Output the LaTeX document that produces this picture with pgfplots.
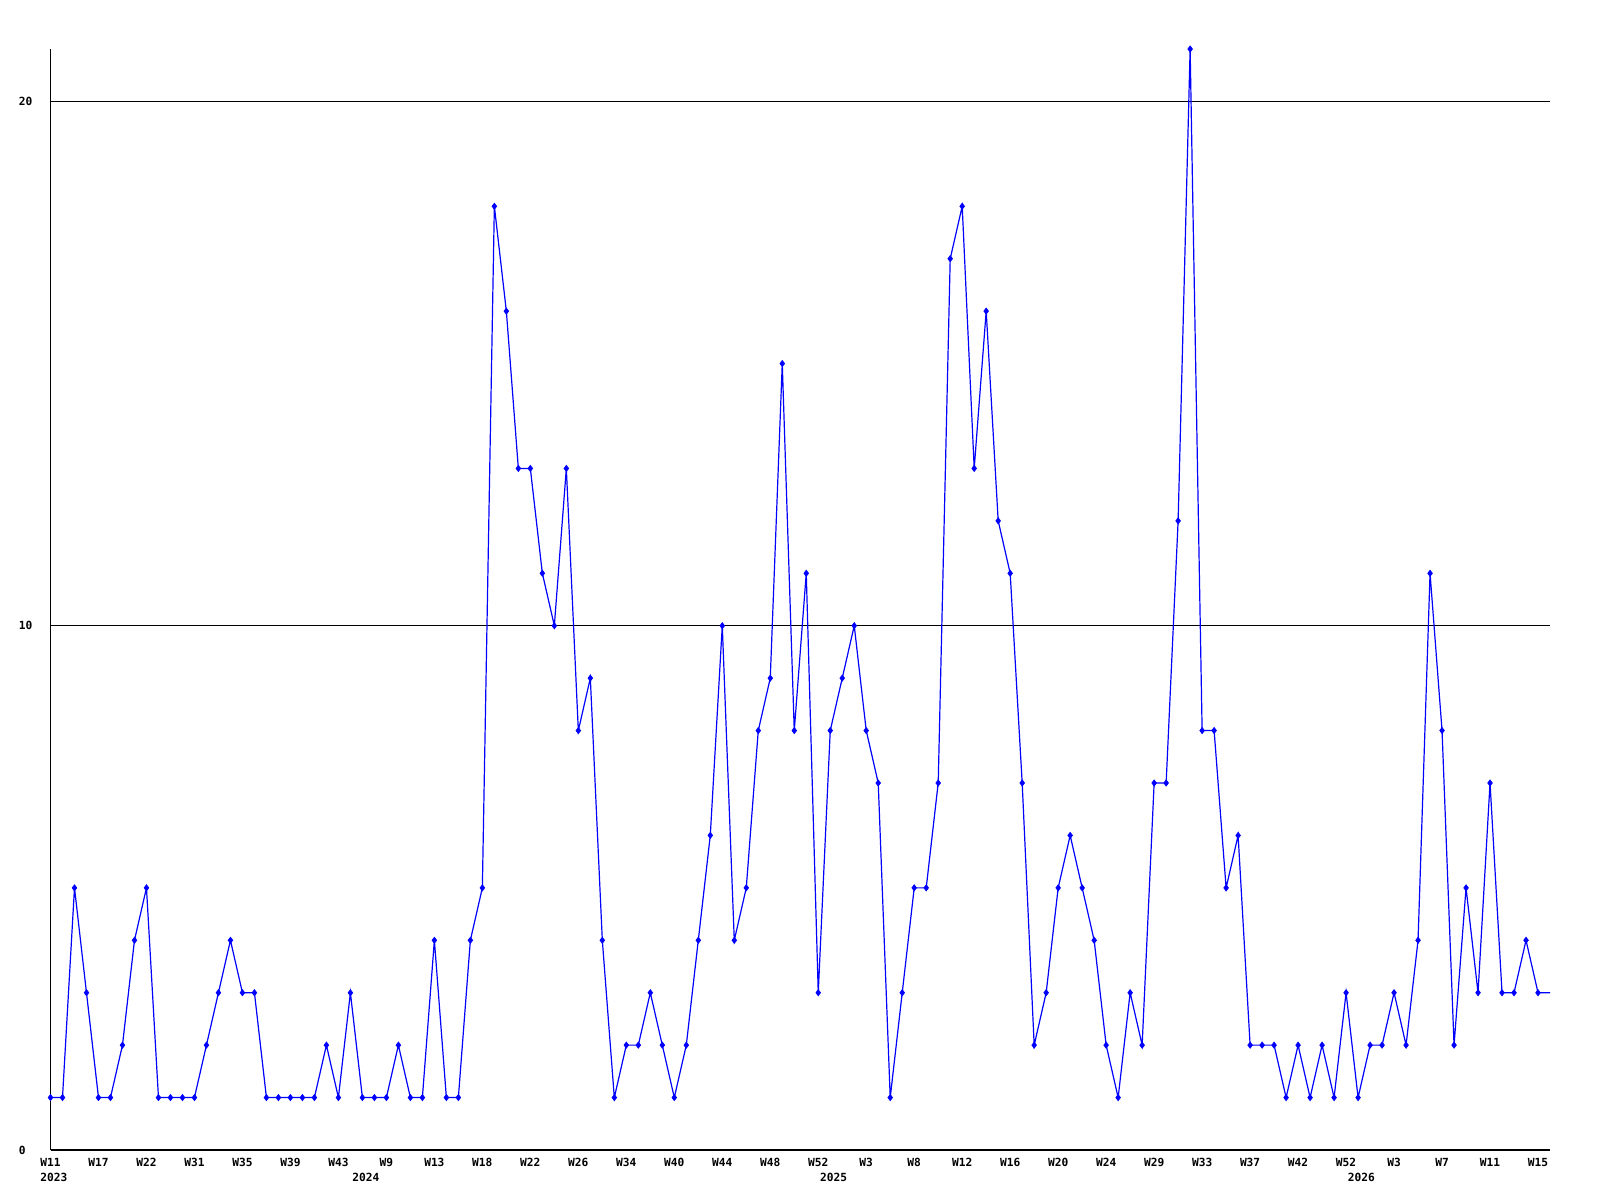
\documentclass[border=0pt]{standalone}
\usepackage{fontspec}
\newfontfamily\labfont{DejaVu Sans Mono}
\usepackage{pgfplots}
\pgfplotsset{compat=1.18}
\usepackage{pgfplotstable}
\definecolor{lineblue}{RGB}{0,0,255}
\pgfplotstableread{
i v
0 1
1 1
2 5
3 3
4 1
5 1
6 2
7 4
8 5
9 1
10 1
11 1
12 1
13 2
14 3
15 4
16 3
17 3
18 1
19 1
20 1
21 1
22 1
23 2
24 1
25 3
26 1
27 1
28 1
29 2
30 1
31 1
32 4
33 1
34 1
35 4
36 5
37 18
38 16
39 13
40 13
41 11
42 10
43 13
44 8
45 9
46 4
47 1
48 2
49 2
50 3
51 2
52 1
53 2
54 4
55 6
56 10
57 4
58 5
59 8
60 9
61 15
62 8
63 11
64 3
65 8
66 9
67 10
68 8
69 7
70 1
71 3
72 5
73 5
74 7
75 17
76 18
77 13
78 16
79 12
80 11
81 7
82 2
83 3
84 5
85 6
86 5
87 4
88 2
89 1
90 3
91 2
92 7
93 7
94 12
95 21
96 8
97 8
98 5
99 6
100 2
101 2
102 2
103 1
104 2
105 1
106 2
107 1
108 3
109 1
110 2
111 2
112 3
113 2
114 4
115 11
116 8
117 2
118 5
119 3
120 7
121 3
122 3
123 4
124 3
125 3
}\datatable
\newcommand{\lf}{\labfont\bfseries\fontsize{5.6}{6.5}\selectfont}
\begin{document}
\begin{tikzpicture}
\useasboundingbox (0,0) rectangle (800pt,600pt);
\begin{axis}[
  at={(25.25pt,25pt)}, anchor=south west,
  scale only axis, width=749.75pt, height=550.5pt,
  xmin=0, xmax=125, ymin=0, ymax=21,
  axis x line*=bottom, axis y line*=left,
  axis line style={black, line width=0.6pt, -},
  xtick={0,4,...,124},
  xticklabels={W11,W17,W22,W31,W35,W39,W43,W9,W13,W18,W22,W26,W34,W40,W44,W48,W52,W3,W8,W12,W16,W20,W24,W29,W33,W37,W42,W52,W3,W7,W11,W15},
  ytick={0,10,20},
  ymajorgrids, major grid style={black, line width=0.5pt},
  major tick length=0pt,
  tick label style={font=\lf},
  /pgf/number format/assume math mode=true,
  xticklabel style={anchor=north, inner sep=0pt, yshift=-3.9pt},
  yticklabel style={anchor=west, inner sep=0pt, xshift=-16pt},
  clip=false,
]
\addplot[lineblue, line width=0.6pt, no markers] table[x=i,y=v]{\datatable};
\addplot[lineblue, only marks, mark=diamond*, mark size=1.5pt, skip coords between index={125}{126}] table[x=i,y=v]{\datatable};
\node[font=\lf, inner sep=0pt, yshift=-13.7pt] at (axis cs:0.28,0) {2023};
\node[font=\lf, inner sep=0pt, yshift=-13.7pt] at (axis cs:26.28,0) {2024};
\node[font=\lf, inner sep=0pt, yshift=-13.7pt] at (axis cs:65.28,0) {2025};
\node[font=\lf, inner sep=0pt, yshift=-13.7pt] at (axis cs:109.28,0) {2026};
\end{axis}
\end{tikzpicture}
\end{document}
